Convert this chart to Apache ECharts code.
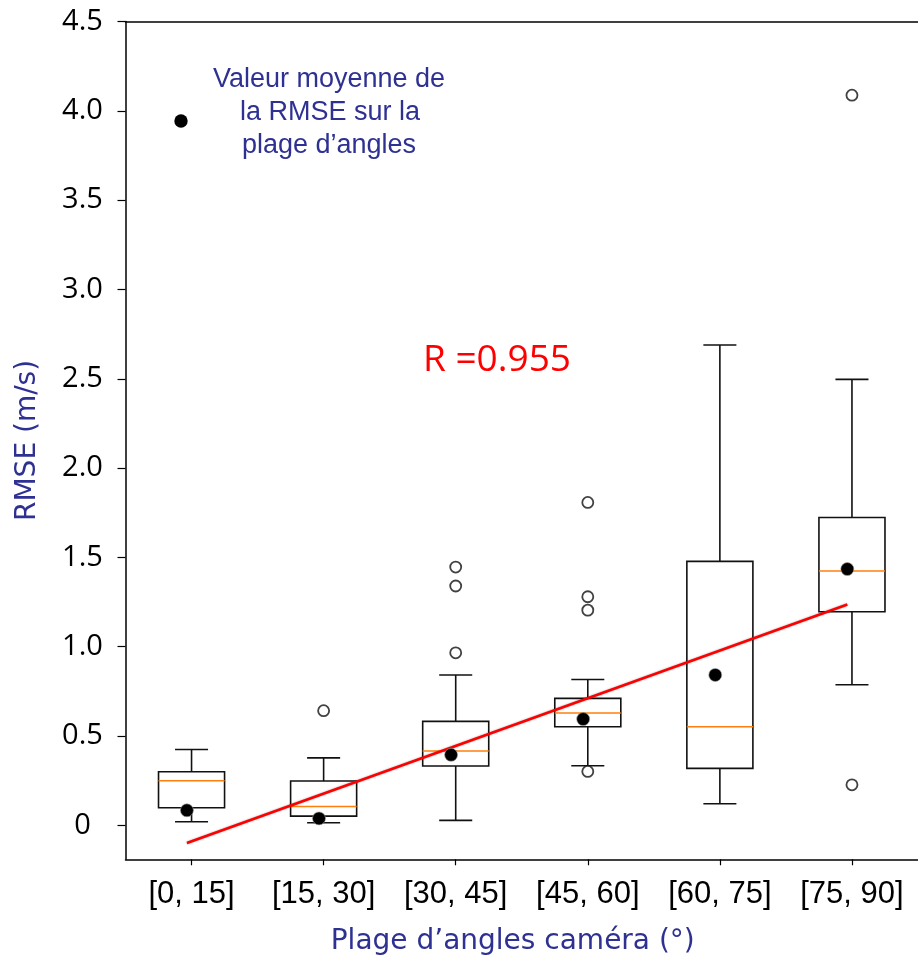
<!DOCTYPE html>
<html>
<head>
<meta charset="utf-8">
<script src="https://cdn.jsdelivr.net/npm/echarts@6/dist/echarts.min.js"></script>
<style>html,body{margin:0;padding:0;background:#fff;}#chart{width:918px;height:961px;}</style>
</head>
<body>
<div id="chart"></div>
<script>
// ---- data ----
const categories = ['[0, 15]', '[15, 30]', '[30, 45]', '[45, 60]', '[60, 75]', '[75, 90]'];
const whiskerLow  = [0.020, 0.015, 0.028, 0.334, 0.121, 0.787];
const q1          = [0.099, 0.052, 0.332, 0.552, 0.319, 1.196];
const median      = [0.250, 0.106, 0.416, 0.629, 0.552, 1.424];
const q3          = [0.300, 0.248, 0.582, 0.711, 1.478, 1.724];
const whiskerHigh = [0.425, 0.378, 0.842, 0.817, 2.689, 2.497];
const means       = [0.084, 0.039, 0.395, 0.595, 0.842, 1.435];
const outliers    = [[], [0.642], [0.966, 1.340, 1.446], [0.302, 1.205, 1.280, 1.808], [], [0.227, 4.088]];
const trendEnds   = [-0.099, 1.237];   // regression line value at first and last category
const yTickValues = [0, 0.5, 1.0, 1.5, 2.0, 2.5, 3.0, 3.5, 4.0, 4.5];
const yTickLabels = ['0', '0.5', '1.0', '1.5', '2.0', '2.5', '3.0', '3.5', '4.0', '4.5'];
const xTickValues = [1, 2, 3, 4, 5, 6];
const legendLines = ['Valeur moyenne de', 'la RMSE sur la', 'plage d\u2019angles'];
const rText = 'R =0.955';

// ---- style constants ----
const NAVY = '#2e3192';
const BOX_W = 0.5;
const MEAN_SHIFT = -0.035;

const boxData = categories.map((c, i) => [i + 1, whiskerLow[i], q1[i], median[i], q3[i], whiskerHigh[i]]);
const outlierData = [];
outliers.forEach((arr, i) => arr.forEach(v => outlierData.push([i + 1, v])));
const meanData = means.map((m, i) => [i + 1 + MEAN_SHIFT, m]);
const trendData = [[1 + MEAN_SHIFT, trendEnds[0]], [categories.length + MEAN_SHIFT, trendEnds[1]]];

const chart = echarts.init(document.getElementById('chart'), null, {renderer: 'canvas'});

chart.setOption({
  backgroundColor: '#ffffff',
  animation: false,
  grid: {left: 125.5, top: 21.6, right: -2.2, bottom: 101.7, containLabel: false},
  xAxis: [{
    type: 'value', min: 0.5, max: 6.5,
    position: 'bottom',
    name: 'Plage d\u2019angles cam\u00e9ra (\u00b0)',
    nameLocation: 'middle', nameGap: 82,
    nameTextStyle: {color: NAVY, fontFamily: 'DejaVu Sans', fontSize: 28, verticalAlign: 'middle', padding: [0, 18, 0, 0]},
    axisLine: {show: true, onZero: false, lineStyle: {color: '#000', width: 1.5}},
    axisTick: {show: true, length: 6, lineStyle: {color: '#000', width: 1.2}, customValues: xTickValues},
    axisLabel: {
      customValues: xTickValues, margin: 35, verticalAlign: 'middle',
      color: '#000', fontFamily: 'Liberation Sans', fontSize: 31,
      formatter: v => categories[Math.round(v) - 1]
    },
    splitLine: {show: false}
  }, {
    type: 'value', min: 0.5, max: 6.5, position: 'top',
    axisLine: {show: true, onZero: false, lineStyle: {color: '#000', width: 1.5}},
    axisTick: {show: false}, axisLabel: {show: false}, splitLine: {show: false}
  }],
  yAxis: {
    type: 'value', min: -0.19, max: 4.5,
    name: 'RMSE (m/s)', nameLocation: 'middle', nameGap: 98,
    nameTextStyle: {color: NAVY, fontFamily: 'DejaVu Sans', fontSize: 28, verticalAlign: 'middle'},
    axisLine: {show: true, onZero: false, lineStyle: {color: '#000', width: 1.5}},
    axisTick: {show: true, length: 8, lineStyle: {color: '#000', width: 1.2}, customValues: yTickValues},
    axisLabel: {
      customValues: yTickValues, margin: 43, align: 'center', verticalAlign: 'middle',
      color: '#000', fontFamily: 'Open Sans', fontSize: 29,
      formatter: v => yTickLabels[yTickValues.findIndex(t => Math.abs(t - v) < 1e-9)]
    },
    splitLine: {show: false}
  },
  series: [{
    type: 'custom',
    name: 'box',
    data: boxData,
    encode: {x: 0, y: [1, 2, 3, 4, 5]},
    z: 2,
    renderItem: function (params, api) {
      const x = api.value(0);
      const pLo = api.coord([x, api.value(1)]);
      const pQ1 = api.coord([x, api.value(2)]);
      const pMed = api.coord([x, api.value(3)]);
      const pQ3 = api.coord([x, api.value(4)]);
      const pHi = api.coord([x, api.value(5)]);
      const half = api.size([BOX_W, 0])[0] / 2;
      const cap = half / 2;
      const st = {stroke: '#111', lineWidth: 1.6, fill: null};
      return {
        type: 'group',
        children: [
          {type: 'line', shape: {x1: pHi[0], y1: pHi[1], x2: pQ3[0], y2: pQ3[1]}, style: st},
          {type: 'line', shape: {x1: pLo[0], y1: pLo[1], x2: pQ1[0], y2: pQ1[1]}, style: st},
          {type: 'line', shape: {x1: pHi[0] - cap, y1: pHi[1], x2: pHi[0] + cap, y2: pHi[1]}, style: st},
          {type: 'line', shape: {x1: pLo[0] - cap, y1: pLo[1], x2: pLo[0] + cap, y2: pLo[1]}, style: st},
          {type: 'rect', shape: {x: pQ3[0] - half, y: pQ3[1], width: 2 * half, height: pQ1[1] - pQ3[1]},
            style: {stroke: '#111', lineWidth: 1.6, fill: 'rgba(255,255,255,0)'}},
          {type: 'line', shape: {x1: pMed[0] - half, y1: pMed[1], x2: pMed[0] + half, y2: pMed[1]},
            style: {stroke: '#ff7f0e', lineWidth: 1.6}}
        ]
      };
    }
  }, {
    type: 'scatter', name: 'outliers', data: outlierData,
    symbol: 'circle', symbolSize: 11, z: 3,
    itemStyle: {color: '#fff', borderColor: '#111', borderWidth: 1.8}
  }, {
    type: 'line', name: 'trend', data: trendData,
    symbol: 'none', z: 4,
    lineStyle: {color: '#ff0000', width: 2.6, shadowColor: 'rgba(0,0,0,0.35)', shadowBlur: 2}
  }, {
    type: 'scatter', name: 'mean', data: meanData,
    symbol: 'circle', symbolSize: 13, z: 5,
    itemStyle: {color: '#000', opacity: 1, borderColor: 'rgba(160,160,160,0.6)', borderWidth: 1}
  }],
  graphic: [
    {type: 'circle', shape: {cx: 181, cy: 121, r: 6.7}, style: {fill: '#000'}, z: 10},
    {type: 'text', x: 329, y: 79.3, style: {text: legendLines[0], fill: NAVY, font: '27px "Liberation Sans"', textAlign: 'center', textVerticalAlign: 'middle'}, z: 10},
    {type: 'text', x: 330, y: 112.7, style: {text: legendLines[1], fill: NAVY, font: '27px "Liberation Sans"', textAlign: 'center', textVerticalAlign: 'middle'}, z: 10},
    {type: 'text', x: 329, y: 146, style: {text: legendLines[2], fill: NAVY, font: '27px "Liberation Sans"', textAlign: 'center', textVerticalAlign: 'middle'}, z: 10},
    {type: 'text', x: 423, y: 360, style: {text: rText, fill: '#ff0000', font: '37px "Open Sans"', textAlign: 'left', textVerticalAlign: 'middle'}, z: 10}
  ]
});
</script>
</body>
</html>
